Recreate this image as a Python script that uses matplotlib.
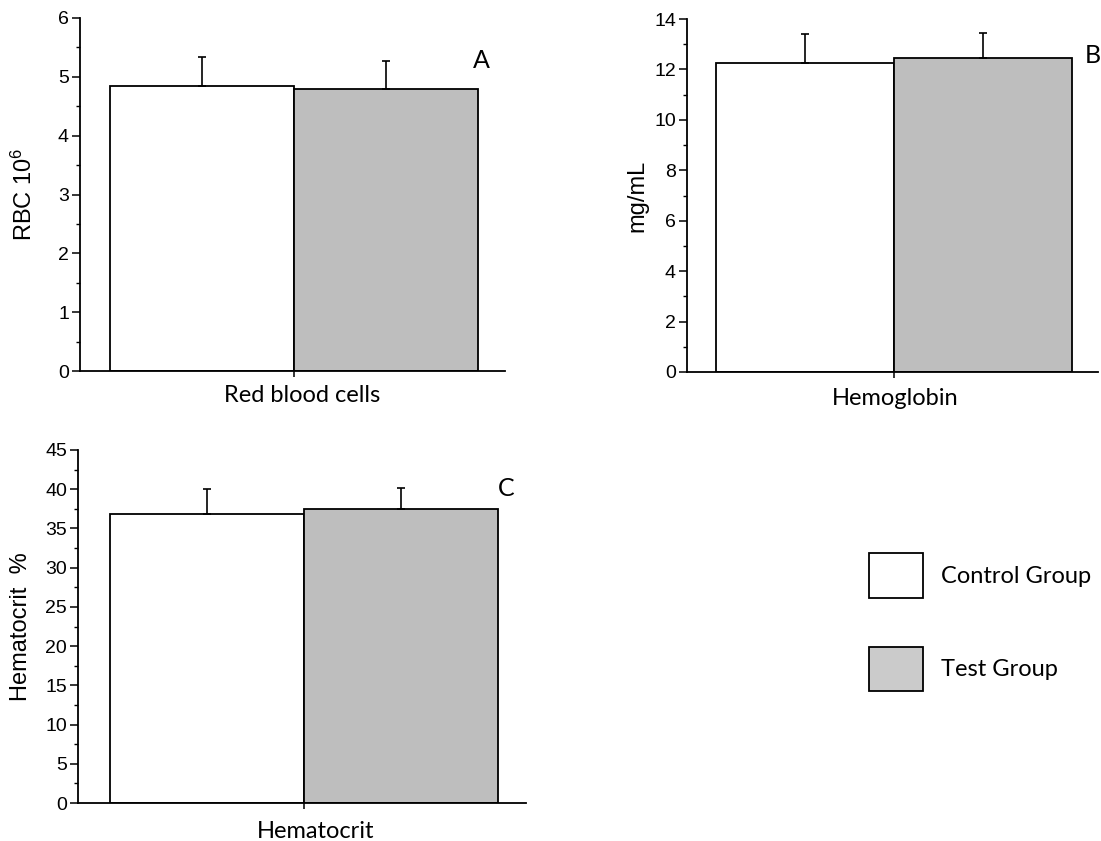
import matplotlib
matplotlib.use("Agg")
import matplotlib.pyplot as plt
from matplotlib.patches import Patch
from matplotlib.ticker import MultipleLocator

plt.rcParams['font.family'] = ['Liberation Sans', 'DejaVu Sans']
plt.rcParams['mathtext.fontset'] = 'custom'
plt.rcParams['mathtext.rm'] = 'Liberation Sans'
plt.rcParams['mathtext.it'] = 'Liberation Sans'

# ---------- data ----------
groups = ["Control Group", "Test Group"]
rbc_mean = [4.85, 4.80]
rbc_err = [0.49, 0.47]
hb_mean = [12.26, 12.46]
hb_err = [1.15, 0.99]
hct_mean = [36.9, 37.5]
hct_err = [3.1, 2.7]

bar_colors = ["white", "#bebebe"]
legend_colors = ["white", "#cbcbcb"]
label_font = "Lato"

W, H = 1101, 841
fig = plt.figure(figsize=(W / 100, H / 100), dpi=100)


def panel(px_left, px_top, px_w, px_h, means, errs, ymax, major, minor,
          ylabel, xlabel, letter, ylab_off, xlab_pos, letter_pos):
    ax = fig.add_axes([px_left / W, 1 - (px_top + px_h) / H, px_w / W, px_h / H])
    x = [0, 1]
    ax.bar(x, means, width=1.0, color=bar_colors, edgecolor="black",
           linewidth=1.3, zorder=2)
    for xi, m, e in zip(x, means, errs):
        ax.errorbar(xi, m, yerr=[[0], [e]], fmt="none", ecolor="black",
                    elinewidth=1.2, capsize=3, capthick=1.2, zorder=3)
    ax.set_xlim(-0.665, 1.645)
    ax.set_ylim(0, ymax)
    ax.yaxis.set_major_locator(MultipleLocator(major))
    ax.yaxis.set_minor_locator(MultipleLocator(minor))
    ax.set_xticks([0.5])
    ax.set_xticklabels([""])
    ax.tick_params(axis="y", which="major", direction="out", length=6,
                   width=1.1, labelsize=14, pad=2)
    ax.tick_params(axis="y", which="minor", direction="out", length=3, width=1.0)
    ax.tick_params(axis="x", direction="out", length=4, width=1.1)
    for s in ["top", "right"]:
        ax.spines[s].set_visible(False)
    for s in ["left", "bottom"]:
        ax.spines[s].set_linewidth(1.3)
    ax.set_ylabel(ylabel, fontsize=17)
    ax.yaxis.set_label_coords(-ylab_off / px_w, 0.5)
    ax.set_xlabel(xlabel, fontsize=17, family=label_font)
    ax.xaxis.set_label_coords(*xlab_pos)
    ax.text(letter_pos[0], letter_pos[1], letter, transform=ax.transAxes,
            fontsize=18, family=label_font, ha="left", va="center")
    return ax


panel(80, 18, 425, 353, rbc_mean, rbc_err, 6, 1, 0.5,
      "RBC 10$^6$", "Red blood cells", "A", 43, (0.522, -0.040), (0.925, 0.88))
panel(687, 19, 411, 353, hb_mean, hb_err, 14, 2, 1,
      "mg/mL", "Hemoglobin", "B", 39, (0.506, -0.045), (0.968, 0.898))
panel(78, 450, 448, 353, hct_mean, hct_err, 45, 5, 2.5,
      "Hematocrit  %", "Hematocrit", "C", 46, (0.531, -0.050), (0.9375, 0.892))

handles = [Patch(facecolor=c, edgecolor="black", linewidth=1.3) for c in legend_colors]
fig.legend(handles, groups, loc="upper left",
           bbox_to_anchor=(860 / W, 1 - 544 / H), frameon=False,
           prop={"family": label_font, "size": 17},
           handlelength=2.25, handleheight=2.5, labelspacing=2.1,
           handletextpad=0.8, borderaxespad=0)

fig.savefig("out.png", dpi=100)
